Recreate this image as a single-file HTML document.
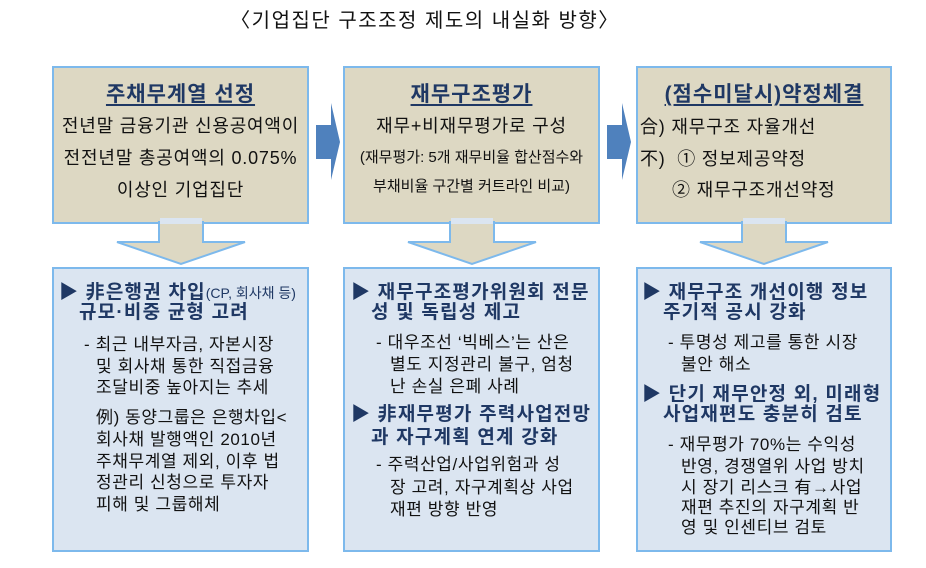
<!DOCTYPE html>
<html><head><meta charset="utf-8"><style>
body{margin:0;width:926px;height:568px;background:#fff;position:relative;overflow:hidden;font-family:"Liberation Sans","Noto Sans CJK KR",sans-serif;color:#111;}
.a{position:absolute;white-space:nowrap;line-height:1;}
.top{position:absolute;background:#ddd8c3;border:2px solid #7db9ec;box-sizing:border-box;}
.bot{position:absolute;background:#dbe5f1;border:2px solid #7db9ec;box-sizing:border-box;}
.t{font-weight:bold;font-size:21px;letter-spacing:1px;color:#1f3864;text-decoration:underline;text-underline-offset:3px;}
.b{font-weight:bold;font-size:19px;letter-spacing:1.2px;color:#1f3864;}
.n{font-size:17px;letter-spacing:0.6px;}
.m{font-size:18px;letter-spacing:0.8px;}
</style></head><body>
<div class="a" style="left:0;width:850px;text-align:center;top:11px;font-size:20px;letter-spacing:1.5px;">〈기업집단 구조조정 제도의 내실화 방향〉</div>

<div class="top" style="left:52px;top:66px;width:257px;height:158px"></div>
<div class="top" style="left:343px;top:66px;width:257px;height:158px"></div>
<div class="top" style="left:636px;top:66px;width:256px;height:158px"></div>
<div class="bot" style="left:52px;top:267px;width:257px;height:285px"></div>
<div class="bot" style="left:343px;top:267px;width:257px;height:285px"></div>
<div class="bot" style="left:636px;top:267px;width:256px;height:285px"></div>

<svg style="position:absolute;left:0;top:0" width="926" height="568">
<g fill="#ddd8c3" stroke="#7db9ec" stroke-width="2">
<polygon points="159,222 203,222 203,242 245,242 181,264 117,242 159,242"/>
<polygon points="450,222 494,222 494,242 536,242 472,264 408,242 450,242"/>
<polygon points="742,222 786,222 786,242 828,242 764,264 700,242 742,242"/>
</g>
<g fill="#dbe5f1"><rect x="160" y="218" width="42" height="6"/><rect x="451" y="218" width="42" height="6"/><rect x="743" y="218" width="42" height="6"/></g>
<g fill="#4f81bd">
<polygon points="316,125 331,125 331,103 340,142 331,180 331,159 316,159"/>
<polygon points="607,125 622,125 622,103 631,142 622,180 622,159 607,159"/>
</g>
</svg>

<div class="a t" style="left:52px;width:257px;text-align:center;top:84px">주채무계열 선정</div>
<div class="a m" style="left:52px;width:257px;text-align:center;top:117px">전년말 금융기관 신용공여액이</div>
<div class="a m" style="left:52px;width:257px;text-align:center;top:149px">전전년말 총공여액의 0.075%</div>
<div class="a m" style="left:52px;width:257px;text-align:center;top:181px">이상인 기업집단</div>

<div class="a t" style="left:343px;width:257px;text-align:center;top:84px">재무구조평가</div>
<div class="a m" style="left:343px;width:257px;text-align:center;top:117px">재무+비재무평가로 구성</div>
<div class="a" style="left:343px;width:257px;text-align:center;top:150px;font-size:15px">(재무평가: 5개 재무비율 합산점수와</div>
<div class="a" style="left:343px;width:257px;text-align:center;top:179px;font-size:15px">부채비율 구간별 커트라인 비교)</div>

<div class="a t" style="left:636px;width:256px;text-align:center;top:84px">(점수미달시)약정체결</div>
<div class="a m" style="left:640px;top:118px">合) 재무구조 자율개선</div>
<div class="a m" style="left:640px;top:150px">不)&nbsp; ① 정보제공약정</div>
<div class="a m" style="left:672px;top:181px">② 재무구조개선약정</div>

<div class="a b" style="left:59px;top:283px">▶ 非은행권 차입<span style="font-weight:normal;font-size:14px;letter-spacing:0">(CP, 회사채 등)</span></div>
<div class="a b" style="left:79px;top:303px">규모·비중 균형 고려</div>
<div class="a n" style="left:84px;top:336px">- 최근 내부자금, 자본시장</div>
<div class="a n" style="left:96px;top:358px">및 회사채 통한 직접금융</div>
<div class="a n" style="left:96px;top:379px">조달비중 높아지는 추세</div>
<div class="a n" style="left:96px;top:409px">例) 동양그룹은 은행차입&lt;</div>
<div class="a n" style="left:96px;top:431px">회사채 발행액인 2010년</div>
<div class="a n" style="left:96px;top:453px">주채무계열 제외, 이후 법</div>
<div class="a n" style="left:96px;top:474px">정관리 신청으로 투자자</div>
<div class="a n" style="left:96px;top:496px">피해 및 그룹해체</div>

<div class="a b" style="left:351px;top:283px">▶ 재무구조평가위원회 전문</div>
<div class="a b" style="left:371px;top:303px">성 및 독립성 제고</div>
<div class="a n" style="left:376px;top:334px">- 대우조선 ‘빅베스’는 산은</div>
<div class="a n" style="left:390px;top:356px">별도 지정관리 불구, 엄청</div>
<div class="a n" style="left:390px;top:378px">난 손실 은폐 사례</div>
<div class="a b" style="left:351px;top:405px">▶ 非재무평가 주력사업전망</div>
<div class="a b" style="left:371px;top:428px">과 자구계획 연계 강화</div>
<div class="a n" style="left:376px;top:456px">- 주력산업/사업위험과 성</div>
<div class="a n" style="left:390px;top:479px">장 고려, 자구계획상 사업</div>
<div class="a n" style="left:390px;top:501px">재편 방향 반영</div>

<div class="a b" style="left:642px;top:283px">▶ 재무구조 개선이행 정보</div>
<div class="a b" style="left:663px;top:303px">주기적 공시 강화</div>
<div class="a n" style="left:668px;top:334px">- 투명성 제고를 통한 시장</div>
<div class="a n" style="left:681px;top:356px">불안 해소</div>
<div class="a b" style="left:642px;top:385px">▶ 단기 재무안정 외, 미래형</div>
<div class="a b" style="left:663px;top:405px">사업재편도 충분히 검토</div>
<div class="a n" style="left:668px;top:436px">- 재무평가 70%는 수익성</div>
<div class="a n" style="left:681px;top:458px">반영, 경쟁열위 사업 방치</div>
<div class="a n" style="left:681px;top:479px">시 장기 리스크 有→사업</div>
<div class="a n" style="left:681px;top:499px">재편 추진의 자구계획 반</div>
<div class="a n" style="left:681px;top:519px">영 및 인센티브 검토</div>
</body></html>
